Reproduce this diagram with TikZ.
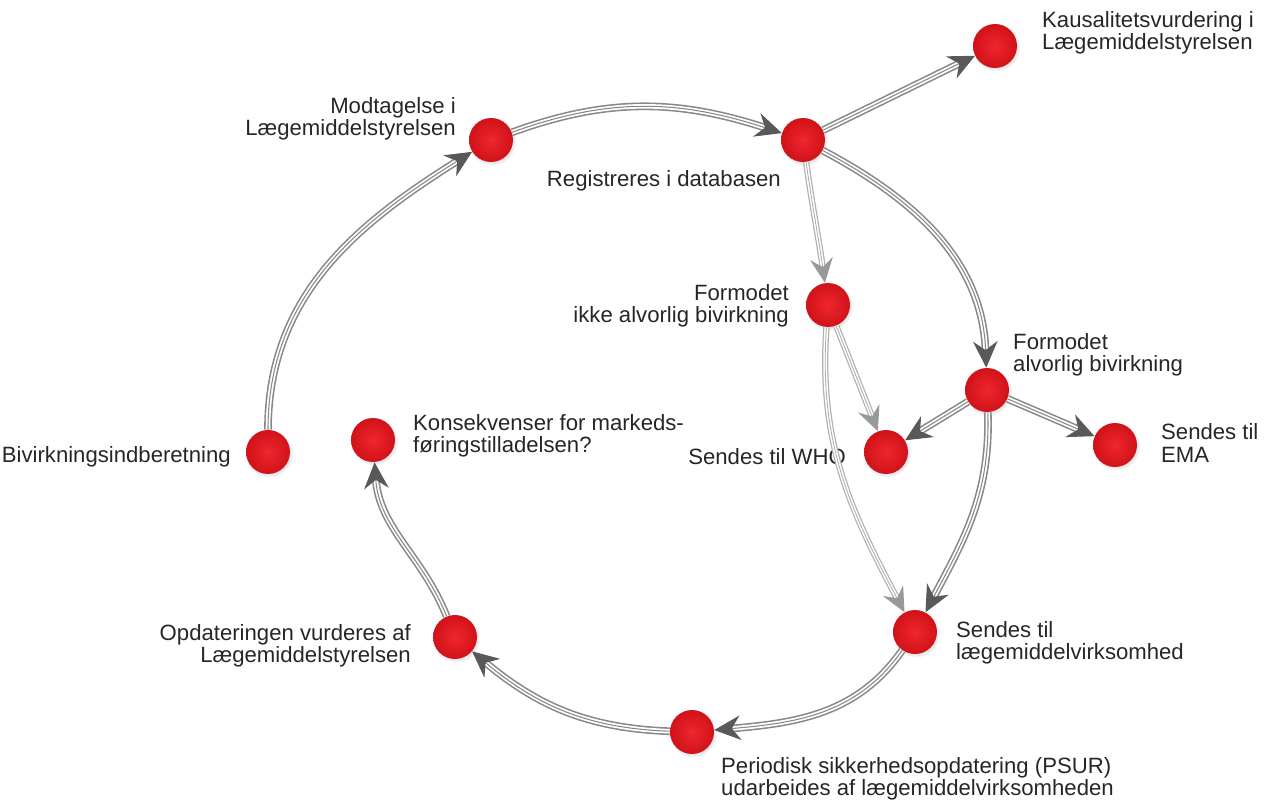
\documentclass[tikz,border=0pt]{standalone}
\usepackage{fontspec}
\setmainfont{Liberation Sans}
\usetikzlibrary{
    positioning,
    arrows.meta,
    shadows
}
\definecolor{dotred}{HTML}{F0262E}
\definecolor{dotdark}{HTML}{D01219}
\definecolor{linegray}{HTML}{888888}
\definecolor{tipgray}{HTML}{595959}
\definecolor{palegray}{HTML}{B0B0B0}
\definecolor{paletip}{HTML}{999999}
\tikzset{
    >=Stealth,
    dot/.style={
        circle,
        minimum size=0.88cm,
        inner sep=0pt,
        inner color=dotred,
        outer color=dotdark,
        circular drop shadow={shadow xshift=0.6pt, shadow yshift=-0.8pt, opacity=0.2}
    },
    txt/.style={
        font=\fontsize{12.6}{12.6}\selectfont,
        text=black!85
    },
    flow/.style={
        draw=linegray,
        line width=0.6pt,
        -{Stealth[length=15pt, width=14pt, inset=5pt, color=tipgray]},
        preaction={draw=linegray, line width=4.4pt, arrows=-, shorten >=9pt},
        preaction={draw=white, line width=2.6pt, arrows=-, shorten >=9pt}
    },
    lightflow/.style={
        draw=palegray,
        line width=0.5pt,
        -{Stealth[length=14pt, width=13pt, inset=5pt, color=paletip]},
        preaction={draw=palegray, line width=3.6pt, arrows=-, shorten >=9pt},
        preaction={draw=white, line width=2.2pt, arrows=-, shorten >=9pt}
    }
}
\begin{document}
\begin{tikzpicture}[
    x=0.02cm,
    y=-0.02cm
]
    \useasboundingbox (0,0) rectangle (1280,800);

    % Knuder
    \node[dot] (biv)  at (268,452) {};
    \node[dot] (modt) at (491,140) {};
    \node[dot] (reg)  at (803,140) {};
    \node[dot] (kaus) at (995,46)  {};
    \node[dot] (ikke) at (828,305) {};
    \node[dot] (alv)  at (987,390) {};
    \node[dot] (who)  at (886,452) {};
    \node[dot] (ema)  at (1115,445) {};
    \node[dot] (virk) at (915,632) {};
    \node[dot] (psur) at (692,732) {};
    \node[dot] (opd)  at (455,637) {};
    \node[dot] (kons) at (373,440) {};

    % Tekster
    \node[txt, anchor=east] (bivT) at (237,457) {Bivirkningsindberetning};
    \node[txt, anchor=east, align=right] (modtT) at (462,119)
        {Modtagelse i\\Lægemiddelstyrelsen};
    \node[txt, anchor=east] (regT) at (787,181) {Registreres i databasen};
    \node[txt, anchor=west, align=left] (kausT) at (1036,33)
        {Kausalitetsvurdering i\\Lægemiddelstyrelsen};
    \node[txt, anchor=east, align=right] (ikkeT) at (795,306)
        {Formodet\\ikke alvorlig bivirkning};
    \node[txt, anchor=west, align=left] (alvT) at (1007,355)
        {Formodet\\alvorlig bivirkning};
    \node[txt, anchor=east] (whoT) at (852,457) {Sendes til WHO};
    \node[txt, anchor=west, align=left] (emaT) at (1155,443)
        {Sendes til\\EMA};
    \node[txt, anchor=west, align=left] (virkT) at (950,643)
        {Sendes til\\lægemiddelvirksomhed};
    \node[txt, anchor=west, align=left] (psurT) at (715,779)
        {Periodisk sikkerhedsopdatering (PSUR)\\udarbeides af lægemiddelvirksomheden};
    \node[txt, anchor=east, align=right] (opdT) at (417,646)
        {Opdateringen vurderes af\\Lægemiddelstyrelsen};
    \node[txt, anchor=west, align=left] (konsT) at (407,436)
        {Konsekvenser for markeds-\\føringstilladelsen?};

    % Forbindelser
    \path
        (biv)  edge[flow, out=90, in=212]   (modt)
        (modt) edge[flow, out=20, in=162]   (reg)
        (reg)  edge[flow]                   (kaus)
        (reg)  edge[flow, out=-28, in=92]   (alv)
        (alv)  edge[flow]                   (who)
        (alv)  edge[flow]                   (ema)
        (alv)  edge[flow, out=-88, in=62]   (virk)
        (virk) edge[flow, out=-125, in=5]   (psur)
        (psur) edge[flow, out=178, in=-40]  (opd)
        (opd)  edge[flow, out=112, in=-86]  (kons);

    \path
        (reg)  edge[lightflow, out=-82, in=98]  (ikke)
        (ikke) edge[lightflow]                  (who)
        (ikke) edge[lightflow, out=-94, in=118] (virk);

\end{tikzpicture}
\end{document}
